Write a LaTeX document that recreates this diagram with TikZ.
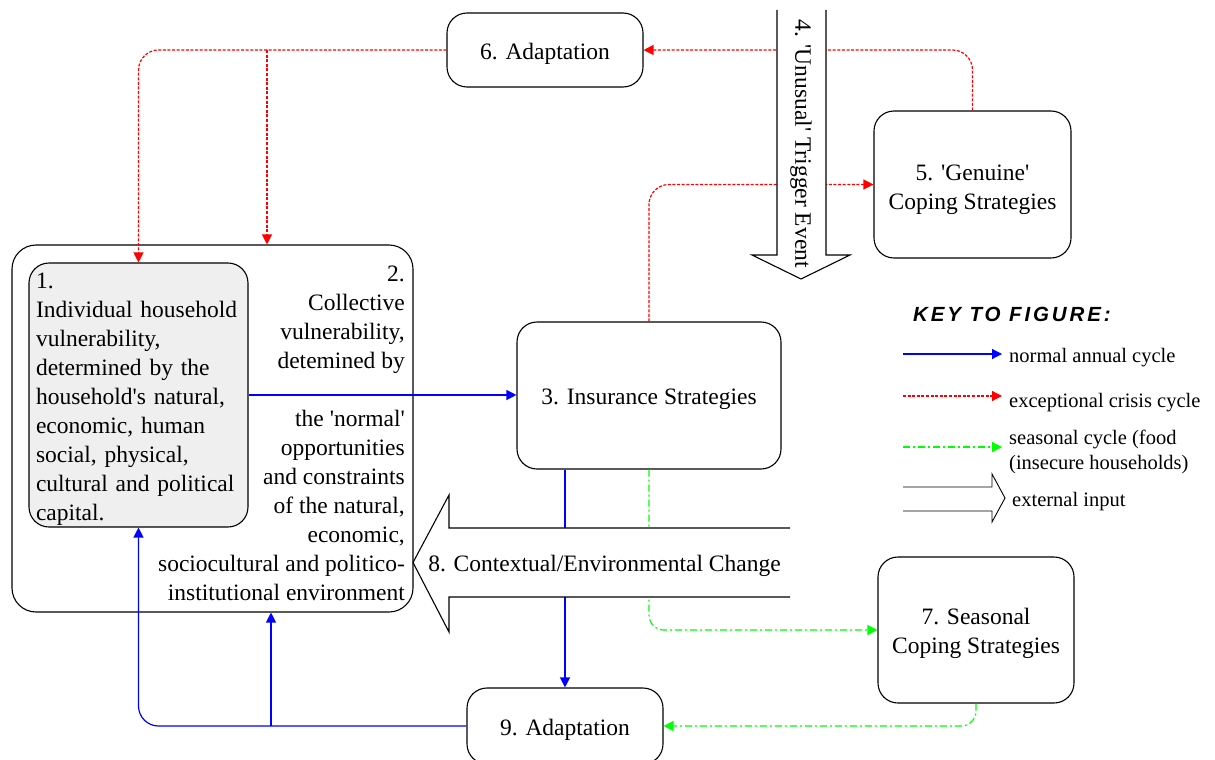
\documentclass[tikz,border=0pt]{standalone}
\usepackage{fontspec}
\newfontfamily\tf{Liberation Serif}
\newfontfamily\kft{Liberation Sans}[LetterSpace=14]
\usetikzlibrary{arrows.meta}
\definecolor{cblue}{RGB}{0,0,255}
\definecolor{cred}{RGB}{255,0,0}
\definecolor{cgreen}{RGB}{0,255,0}
\definecolor{boxgray}{RGB}{239,239,239}
\newcommand{\mtext}{\tf\fontsize{23.5}{29}\selectfont}
\newcommand{\ktext}{\tf\fontsize{20.5}{25}\selectfont}
\newcommand{\lift}{\rule{0pt}{24pt}}
\begin{document}
\begin{tikzpicture}[x=1pt,y=-1pt,
  box/.style={draw, line width=1.1pt, rounded corners=20pt, align=center, inner sep=0pt, font=\mtext},
  txt/.style={inner sep=0pt, font=\mtext},
  keytxt/.style={inner sep=0pt, anchor=west, align=left, font=\ktext},
  tip/.style={-{Triangle[length=10pt,width=10pt]}},
  normal/.style={draw=cblue, line width=1.2pt, tip},
  crisis/.style={draw=cred, line width=1.2pt, dash pattern=on 3pt off 1.6pt, tip},
  seasonal/.style={draw=cgreen, line width=1.2pt, dash pattern=on 7pt off 3pt on 2pt off 3pt, tip},
  extarrow/.style={draw, line width=1.1pt}]
\useasboundingbox (0,0) rectangle (1215,760);

% boxes
\node[box, minimum width=401pt, minimum height=367pt, rounded corners=24pt] (n2) at (212.5,428.5) {};
\node[box, fill=boxgray, minimum width=219pt, minimum height=264pt, text width=205pt, align=left] (n1) at (138.5,395)
  {\lift 1.\\Individual household\\vulnerability,\\determined by the\\household's natural,\\economic, human\\social, physical,\\cultural and political\\capital.};
\node[txt, anchor=east, align=right] (n2a) at (405,319.5) {2.\\Collective\\vulnerability,\\detemined by};
\node[txt, anchor=east, align=right] (n2b) at (405,505) {the 'normal'\\opportunities\\and constraints\\of the natural,\\economic,\\sociocultural and politico-\\institutional environment};
\node[box, minimum width=196pt, minimum height=74pt] (n6) at (545,50) {\lift 6. Adaptation};
\node[box, minimum width=197pt, minimum height=147pt] (n5) at (972.5,184.5) {\rule{0pt}{26pt}5. 'Genuine'\\Coping Strategies};
\node[box, minimum width=264pt, minimum height=147pt] (n3) at (649,395.5) {\lift 3. Insurance Strategies};
\node[box, minimum width=196pt, minimum height=146pt] (n7) at (976,630) {\lift 7. Seasonal\\Coping Strategies};
\node[box, minimum width=196pt, minimum height=76pt] (n9) at (565,726) {\lift 9. Adaptation};

% connectors
\coordinate (c6) at (267,50);
\coordinate (c9) at (271,726);
\draw[crisis, rounded corners=20pt] (n6.west) -| (n1.north);
\draw[crisis] (c6) -- (c6 |- n2.north);
\draw[crisis, rounded corners=20pt] (n5.north) |- (n6.east);
\draw[crisis, rounded corners=20pt] (n3.north) |- (n5.west);
\draw[normal] (n1.east) -- (n1.east -| n3.west);
\draw[normal] (n3.south -| n9.north) -- (n9.north);
\draw[seasonal, rounded corners=15pt] (n3.south) |- (n7.west);
\draw[seasonal, rounded corners=15pt] (n7.south) |- (n9.east);
\draw[normal, rounded corners=20pt] (n9.west) -| (n1.south);
\draw[normal] (c9) -- (c9 |- n2.south);

% external input 8
\fill[white] (790,528) -- (449,528) -- (449,495) -- (413,562.5) -- (449,632) -- (449,597) -- (790,597) -- cycle;
\draw[extarrow] (790,528) -- (449,528) -- (449,495) -- (413,562.5) -- (449,632) -- (449,597) -- (790,597);
\node[txt] (n8) at (604.5,566) {8. Contextual/Environmental Change};

% external input 4
\fill[white] (777,10) -- (777,255) -- (752,255) -- (801,279) -- (850,255) -- (826,255) -- (826,10) -- cycle;
\draw[extarrow] (777,10) -- (777,255) -- (752,255) -- (801,279) -- (850,255) -- (826,255) -- (826,10);
\node[txt, rotate=-90] (n4) at (801,143.5) {4. 'Unusual' Trigger Event};

% key
\node[anchor=west, inner sep=0pt, font=\kft\bfseries\itshape\fontsize{20.5}{24}\selectfont] (keyt) at (913,314) {KEY TO FIGURE:};
\coordinate (k1a) at (903,354); \coordinate (k1b) at (1002,354);
\coordinate (k2a) at (903,396); \coordinate (k2b) at (1002,396);
\coordinate (k3a) at (903,447); \coordinate (k3b) at (1002,447);
\draw[normal] (k1a) -- (k1b);
\draw[crisis] (k2a) -- (k2b);
\draw[seasonal] (k3a) -- (k3b);
\node[keytxt] (k1) at (1009,358) {normal annual cycle};
\node[keytxt] (k2) at (1009,403) {exceptional crisis cycle};
\node[keytxt] (k3) at (1009,451.5) {seasonal cycle (food\\(insecure households)};
\fill[white] (903,487) -- (992,487) -- (992,474) -- (1005,498) -- (992,522) -- (992,511) -- (903,511) -- cycle;
\draw[extarrow, line width=0.9pt] (903,487) -- (992,487) -- (992,474) -- (1005,498) -- (992,522) -- (992,511) -- (903,511);
\node[keytxt] (k4) at (1012,502) {external input};
\end{tikzpicture}
\end{document}
